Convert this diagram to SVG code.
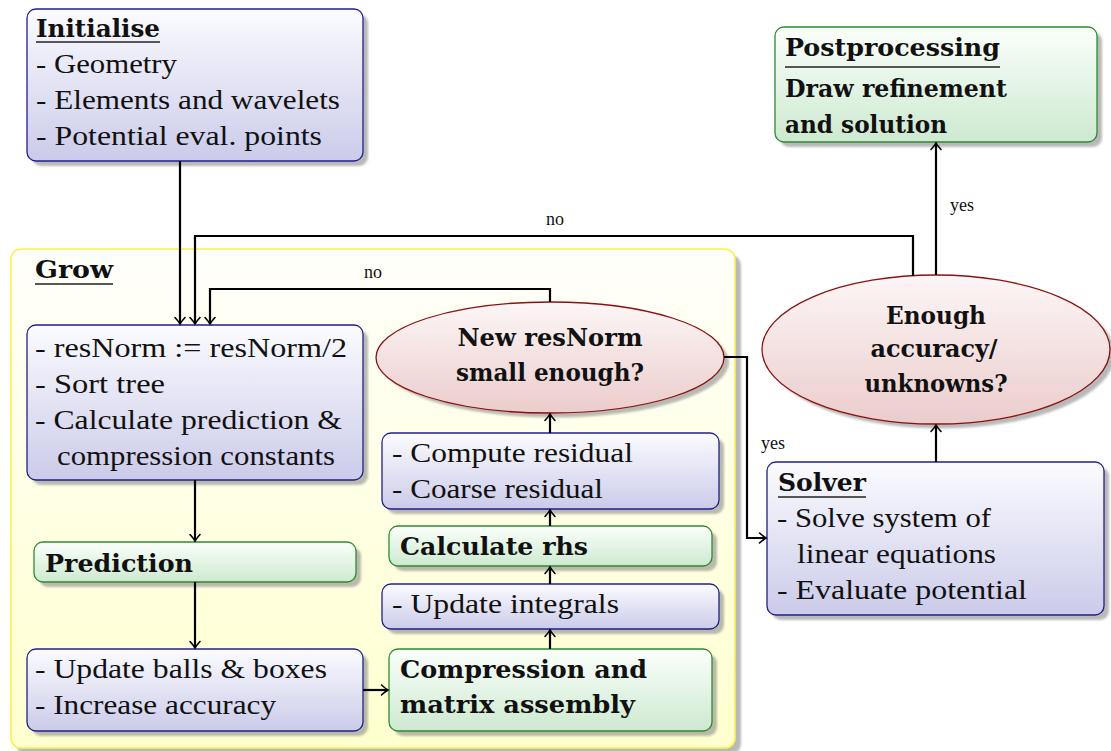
<svg xmlns="http://www.w3.org/2000/svg" width="1111" height="751" viewBox="0 0 1111 751">
<defs>
<linearGradient id="gBlue" x1="0" y1="0" x2="0" y2="1"><stop offset="0" stop-color="#fbfbff"/><stop offset="1" stop-color="#cbcbea"/></linearGradient>
<linearGradient id="gGreen" x1="0" y1="0" x2="0" y2="1"><stop offset="0" stop-color="#fbfffb"/><stop offset="1" stop-color="#cde9d0"/></linearGradient>
<linearGradient id="gRed" x1="0" y1="0" x2="0" y2="1"><stop offset="0" stop-color="#fcf6f6"/><stop offset="1" stop-color="#eccccc"/></linearGradient>
<linearGradient id="gYellow" x1="0" y1="0" x2="0" y2="1"><stop offset="0" stop-color="#fffffb"/><stop offset="1" stop-color="#ffffcf"/></linearGradient>
<filter id="sh" x="-10%" y="-10%" width="120%" height="120%"><feGaussianBlur stdDeviation="1.2"/></filter>
<marker id="arr" markerUnits="userSpaceOnUse" markerWidth="14" markerHeight="14" viewBox="-8 -7 10 14" refX="0" refY="0" orient="auto">
<path d="M-6.5,-5 Q-2,-1 0,0 Q-2,1 -6.5,5" fill="none" stroke="#000" stroke-width="1.6" stroke-linecap="round"/>
</marker>
</defs>
<style>
.shadow{fill:#8c8c8c;opacity:0.6;filter:url(#sh)}
.blue{fill:url(#gBlue);stroke:#1f1f8f;stroke-width:1.3}
.green{fill:url(#gGreen);stroke:#2e8b2e;stroke-width:1.3}
.red{fill:url(#gRed);stroke:#8b1111;stroke-width:1.3}
.yellow{fill:url(#gYellow);stroke:#fff04a;stroke-width:1.6}
.b{font-family:"DejaVu Serif","Liberation Serif",serif;font-size:25px;font-weight:bold;fill:#111}
.ul{stroke:#222;stroke-width:1.6}
.conn{fill:none;stroke:#000;stroke-width:2.2;marker-end:url(#arr)}
</style>

<g id="grow">
<rect class="shadow" x="16" y="255" width="725" height="499" rx="10"/>
<rect class="yellow" x="11" y="249" width="724" height="499" rx="10"/>
<text class="b" x="35" y="278" textLength="78" lengthAdjust="spacingAndGlyphs">Grow</text>
<line class="ul" x1="35" y1="284" x2="113" y2="284"/>
</g>

<g id="initialise">
<rect class="shadow" x="32" y="14" width="336" height="152" rx="9"/>
<rect class="blue" x="27" y="9" width="336" height="152" rx="9"/>
<text class="b" x="36" y="37" textLength="124" lengthAdjust="spacingAndGlyphs">Initialise</text>
<line class="ul" x1="36" y1="42" x2="160" y2="42"/>
<g font-family="Liberation Serif, Times New Roman, Noto Serif, serif" font-size="27" font-weight="400" fill="#111">
<text x="36" y="73" textLength="141" lengthAdjust="spacingAndGlyphs">- Geometry</text>
<text x="36" y="109" textLength="304" lengthAdjust="spacingAndGlyphs">- Elements and wavelets</text>
<text x="36" y="145" textLength="286" lengthAdjust="spacingAndGlyphs">- Potential eval. points</text>
</g>
</g>

<g id="postprocessing">
<rect class="shadow" x="780" y="32" width="322" height="115" rx="9"/>
<rect class="green" x="775" y="27" width="322" height="115" rx="9"/>
<text class="b" x="785" y="56" textLength="215" lengthAdjust="spacingAndGlyphs">Postprocessing</text>
<line x1="785" y1="67" x2="1000" y2="67" stroke="#555" stroke-width="2"/>
<text class="b" x="785" y="97" textLength="222" lengthAdjust="spacingAndGlyphs">Draw refinement</text>
<text class="b" x="785" y="133" textLength="162" lengthAdjust="spacingAndGlyphs">and solution</text>
</g>

<g id="resnorm">
<rect class="shadow" x="32" y="330" width="336" height="155" rx="9"/>
<rect class="blue" x="27" y="325" width="336" height="155" rx="9"/>
<g font-family="Liberation Serif, Times New Roman, Noto Serif, serif" font-size="27" font-weight="400" fill="#111">
<text x="35" y="357" textLength="312" lengthAdjust="spacingAndGlyphs">- resNorm := resNorm/2</text>
<text x="35" y="393" textLength="130" lengthAdjust="spacingAndGlyphs">- Sort tree</text>
<text x="35" y="429" textLength="307" lengthAdjust="spacingAndGlyphs">- Calculate prediction &amp;</text>
<text x="57" y="465" textLength="278" lengthAdjust="spacingAndGlyphs">compression constants</text>
</g>
</g>

<g id="prediction">
<rect class="shadow" x="39" y="547" width="322" height="40" rx="9"/>
<rect class="green" x="34" y="542" width="322" height="40" rx="9"/>
<text class="b" x="45" y="572" textLength="148" lengthAdjust="spacingAndGlyphs">Prediction</text>
</g>

<g id="updateballs">
<rect class="shadow" x="32" y="654" width="336" height="82" rx="9"/>
<rect class="blue" x="27" y="649" width="336" height="82" rx="9"/>
<g font-family="Liberation Serif, Times New Roman, Noto Serif, serif" font-size="27" font-weight="400" fill="#111">
<text x="35" y="678" textLength="292" lengthAdjust="spacingAndGlyphs">- Update balls &amp; boxes</text>
<text x="35" y="714" textLength="241" lengthAdjust="spacingAndGlyphs">- Increase accuracy</text>
</g>
</g>

<g id="compression">
<rect class="shadow" x="394" y="654" width="323" height="82" rx="9"/>
<rect class="green" x="389" y="649" width="323" height="82" rx="9"/>
<text class="b" x="400" y="678" textLength="247" lengthAdjust="spacingAndGlyphs">Compression and</text>
<text class="b" x="400" y="713" textLength="235" lengthAdjust="spacingAndGlyphs">matrix assembly</text>
</g>

<g id="updateintegrals">
<rect class="shadow" x="387" y="589" width="337" height="45" rx="9"/>
<rect class="blue" x="382" y="584" width="337" height="45" rx="9"/>
<text x="392" y="613" textLength="227" lengthAdjust="spacingAndGlyphs" font-family="Liberation Serif, Times New Roman, Noto Serif, serif" font-size="27" fill="#111">- Update integrals</text>
</g>

<g id="calcrhs">
<rect class="shadow" x="394" y="531" width="323" height="40" rx="9"/>
<rect class="green" x="389" y="526" width="323" height="40" rx="9"/>
<text class="b" x="400" y="555" textLength="188" lengthAdjust="spacingAndGlyphs">Calculate rhs</text>
</g>

<g id="residual">
<rect class="shadow" x="387" y="438" width="337" height="76" rx="9"/>
<rect class="blue" x="382" y="433" width="337" height="76" rx="9"/>
<g font-family="Liberation Serif, Times New Roman, Noto Serif, serif" font-size="27" font-weight="400" fill="#111">
<text x="392" y="462" textLength="241" lengthAdjust="spacingAndGlyphs">- Compute residual</text>
<text x="392" y="498" textLength="211" lengthAdjust="spacingAndGlyphs">- Coarse residual</text>
</g>
</g>

<g id="newresnorm">
<ellipse class="shadow" cx="555" cy="362" rx="174" ry="55.5"/>
<ellipse class="red" cx="550" cy="357.5" rx="174" ry="55.5"/>
<text class="b" x="550" y="346" text-anchor="middle" textLength="185" lengthAdjust="spacingAndGlyphs">New resNorm</text>
<text class="b" x="550" y="381" text-anchor="middle" textLength="188" lengthAdjust="spacingAndGlyphs">small enough?</text>
</g>

<g id="enough">
<ellipse class="shadow" cx="941" cy="354" rx="174" ry="74.5"/>
<ellipse class="red" cx="936" cy="349.5" rx="174" ry="74.5"/>
<text class="b" x="936" y="324" text-anchor="middle" textLength="100" lengthAdjust="spacingAndGlyphs">Enough</text>
<text class="b" x="934" y="357" text-anchor="middle" textLength="127" lengthAdjust="spacingAndGlyphs">accuracy/</text>
<text class="b" x="936" y="392" text-anchor="middle" textLength="143" lengthAdjust="spacingAndGlyphs">unknowns?</text>
</g>

<g id="solver">
<rect class="shadow" x="772" y="467" width="337" height="153" rx="9"/>
<rect class="blue" x="767" y="462" width="337" height="153" rx="9"/>
<text class="b" x="778" y="491" textLength="88" lengthAdjust="spacingAndGlyphs">Solver</text>
<line class="ul" x1="778" y1="497" x2="866" y2="497"/>
<g font-family="Liberation Serif, Times New Roman, Noto Serif, serif" font-size="27" font-weight="400" fill="#111">
<text x="777" y="527" textLength="214" lengthAdjust="spacingAndGlyphs">- Solve system of</text>
<text x="797" y="563" textLength="199" lengthAdjust="spacingAndGlyphs">linear equations</text>
<text x="777" y="599" textLength="250" lengthAdjust="spacingAndGlyphs">- Evaluate potential</text>
</g>
</g>

<g id="connectors">
<path class="conn" d="M180 161 V324"/>
<path class="conn" d="M913 276 V236 H195 V324"/>
<path class="conn" d="M936 275 V143"/>
<path class="conn" d="M550 302 V289 H210 V324"/>
<path class="conn" d="M195 480 V541"/>
<path class="conn" d="M195 582 V648"/>
<path class="conn" d="M363 690 H388"/>
<path class="conn" d="M550 649 V630"/>
<path class="conn" d="M550 584 V567"/>
<path class="conn" d="M550 526 V510"/>
<path class="conn" d="M550 433 V414"/>
<path class="conn" d="M724 357 H747 V538 H766"/>
<path class="conn" d="M936 462 V425"/>
<g font-family="Liberation Serif, Times New Roman, Noto Serif, serif" font-size="18" fill="#111" text-anchor="middle">
<text x="555" y="225">no</text>
<text x="373" y="278">no</text>
<text x="962" y="211">yes</text>
<text x="773" y="449">yes</text>
</g>
</g>
</svg>
